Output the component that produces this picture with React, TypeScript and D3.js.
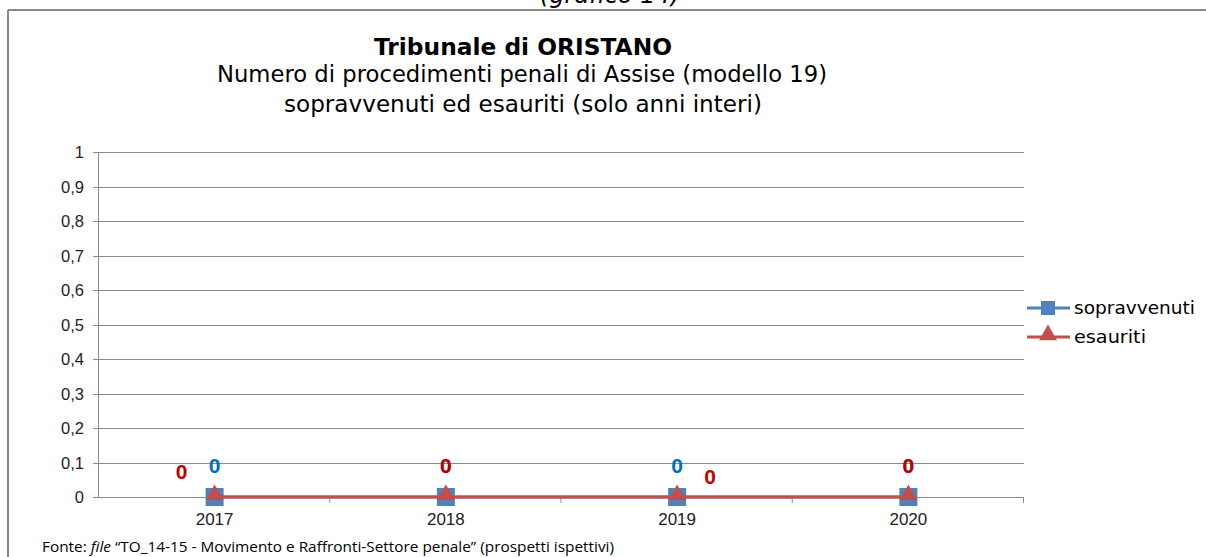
import React from 'react';
import * as d3 from 'd3';

const width = 1206;
const height = 557;
const margin = { top: 152, right: 182, bottom: 60, left: 99 };

const years = ['2017', '2018', '2019', '2020'];
const sopravvenuti = [0, 0, 0, 0];
const esauriti = [0, 0, 0, 0];
const yTicks = [0, 0.1, 0.2, 0.3, 0.4, 0.5, 0.6, 0.7, 0.8, 0.9, 1];

// label nudges (excel moves overlapping labels)
const bluePos = [[0, -32], [0, -32], [0, -32], [0, -32]];
const redPos = [[-33, -26], [0, -32], [33, -21], [0, -32]];

const blue = '#4F81BD';
const red = '#C0504D';
const grid = '#8a8a8a';

const itFormat = d3.formatLocale({ decimal: ',', thousands: '.', grouping: [3], currency: ['€', ''] }).format('~g');

const x = d3.scaleBand().domain(years).range([margin.left, width - margin.right]);
const y = d3.scaleLinear().domain([0, 1]).range([height - margin.bottom, margin.top]);

const lineGen = d3.line<number>()
  .x((d, i) => x(years[i])! + x.bandwidth() / 2)
  .y(d => y(d));

const tri = d3.symbol().type(d3.symbolTriangle).size(140);

export default function App() {
  const bottom = y(0);
  const cx = (i: number) => x(years[i])! + x.bandwidth() / 2;
  return (
    <svg width={width} height={height} style={{ position: 'fixed', left: 0, top: 0, background: '#fff' }}>
      <rect x={0} y={0} width={width} height={height} fill="#fff" />
      {/* frame */}
      <line x1={8} x2={width} y1={10} y2={10} stroke="#888" strokeWidth={2} />
      <line x1={8} x2={8} y1={10} y2={height} stroke="#888" strokeWidth={2} />
      <text x={610} y={3} textAnchor="middle" fontFamily="DejaVu Sans" fontStyle="italic" fontSize={24} fill="#000">(grafico 14)</text>

      {/* titles */}
      <text x={523} y={55} textAnchor="middle" fontFamily="DejaVu Sans" fontWeight="bold" fontSize={23} fill="#000" textLength={298} lengthAdjust="spacingAndGlyphs">Tribunale di ORISTANO</text>
      <text x={522} y={82} textAnchor="middle" fontFamily="DejaVu Sans" fontSize={22.5} fill="#000" textLength={610} lengthAdjust="spacingAndGlyphs">Numero di procedimenti penali di Assise (modello 19)</text>
      <text x={523} y={112} textAnchor="middle" fontFamily="DejaVu Sans" fontSize={22.5} fill="#000" textLength={478} lengthAdjust="spacingAndGlyphs">sopravvenuti ed esauriti (solo anni interi)</text>

      {/* gridlines + y axis */}
      {yTicks.map(t => (
        <g key={t}>
          <line x1={margin.left - 6} x2={width - margin.right} y1={Math.round(y(t)) + 0.5} y2={Math.round(y(t)) + 0.5} stroke={grid} strokeWidth={1} />
          <text x={84} y={y(t) + 6} textAnchor="end" fontFamily="Liberation Sans, Arial" fontSize={16.5} fill="#222">{itFormat(t)}</text>
        </g>
      ))}
      <line x1={margin.left - 0.5} x2={margin.left - 0.5} y1={margin.top} y2={bottom} stroke={grid} />

      {/* x axis */}
      {years.map((yr, i) => (
        <g key={yr}>
          <line x1={x(yr)! + x.bandwidth() - 0.5} x2={x(yr)! + x.bandwidth() - 0.5} y1={bottom} y2={bottom + 6} stroke={grid} />
          <text x={cx(i)} y={bottom + 28} textAnchor="middle" fontFamily="Liberation Sans, Arial" fontSize={17} fill="#222">{yr}</text>
        </g>
      ))}

      {/* series */}
      <path d={lineGen(sopravvenuti)!} fill="none" stroke={blue} strokeWidth={3} />
      {sopravvenuti.map((v, i) => (
        <rect key={'s' + i} x={cx(i) - 9} y={y(v) - 9} width={18} height={18} fill={blue} />
      ))}
      <path d={lineGen(esauriti)!} fill="none" stroke={red} strokeWidth={3} />
      {esauriti.map((v, i) => (
        <path key={'e' + i} d={tri()!} transform={`translate(${cx(i)},${y(v) - 2})`} fill={red} />
      ))}

      {/* data labels */}
      {sopravvenuti.map((v, i) => (
        <text key={'sl' + i} x={cx(i) + bluePos[i][0]} y={y(v) + bluePos[i][1] + 8} textAnchor="middle"
          fontFamily="Liberation Sans, Arial" fontWeight="bold" fontSize={21} fill="#0070C0">{v}</text>
      ))}
      {esauriti.map((v, i) => (
        <text key={'el' + i} x={cx(i) + redPos[i][0]} y={y(v) + redPos[i][1] + 8} textAnchor="middle"
          fontFamily="Liberation Sans, Arial" fontWeight="bold" fontSize={21} fill="#C00000">{v}</text>
      ))}

      {/* legend */}
      <g fontFamily="DejaVu Sans" fontSize={18.5} fill="#000">
        <line x1={1027} x2={1070} y1={308} y2={308} stroke={blue} strokeWidth={3} />
        <rect x={1041} y={301} width={14} height={14} fill={blue} />
        <text x={1074} y={314} textLength={121} lengthAdjust="spacingAndGlyphs">sopravvenuti</text>
        <line x1={1027} x2={1070} y1={337} y2={337} stroke={red} strokeWidth={3} />
        <path d={tri()!} transform="translate(1048,335)" fill={red} />
        <text x={1074} y={343} textLength={72} lengthAdjust="spacingAndGlyphs">esauriti</text>
      </g>

      {/* source */}
      <text x={42} y={552} fontFamily="Open Sans, Lato" fontSize={14} fill="#000" textLength={572} lengthAdjust="spacingAndGlyphs">
        Fonte: <tspan fontStyle="italic">file</tspan> “TO_14-15 - Movimento e Raffronti-Settore penale” (prospetti ispettivi)
      </text>
    </svg>
  );
}
